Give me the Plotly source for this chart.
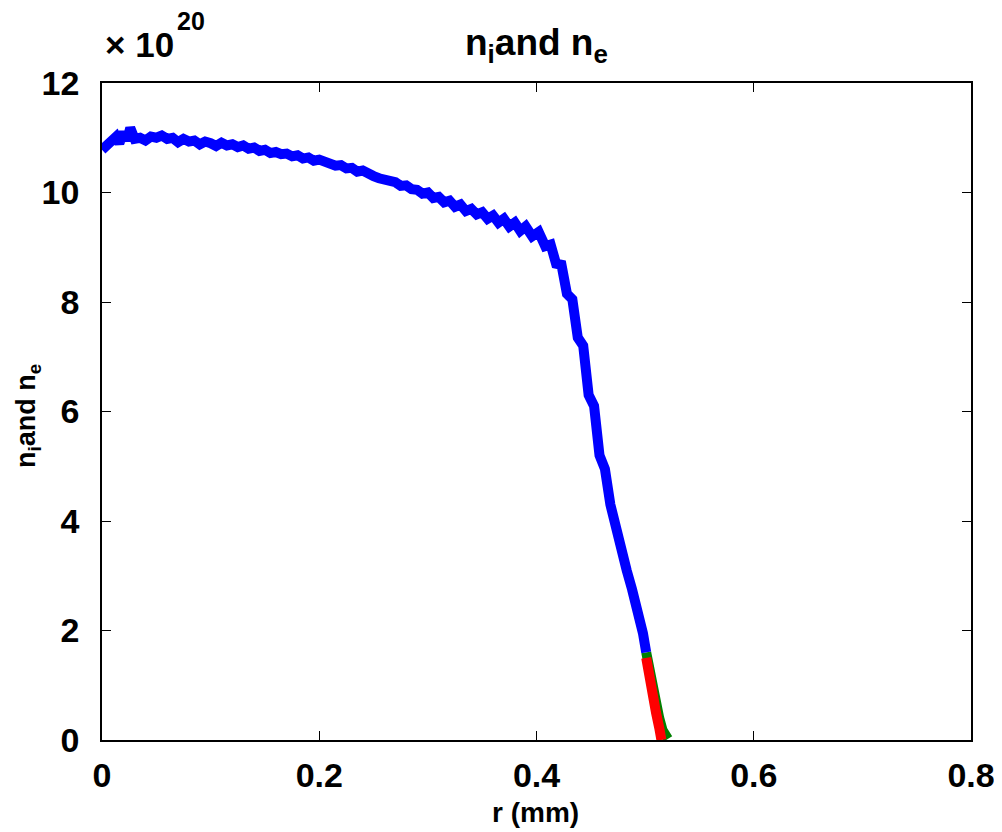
import plotly.graph_objects as go

# r (mm) and densities in units of 1e20
r_blue = [0.000, 0.006, 0.010, 0.013, 0.016, 0.020, 0.023, 0.026, 0.030, 0.035,
          0.040, 0.045, 0.050, 0.055, 0.060, 0.065, 0.070, 0.075, 0.080, 0.085,
          0.090, 0.095, 0.100, 0.105, 0.110, 0.115, 0.120, 0.125, 0.130, 0.135,
          0.140, 0.145, 0.150, 0.155, 0.160, 0.165, 0.170, 0.175, 0.180, 0.185,
          0.190, 0.195, 0.200, 0.205, 0.210, 0.215, 0.220, 0.225, 0.230, 0.235,
          0.240, 0.245, 0.250, 0.255, 0.260, 0.265, 0.270, 0.275, 0.280, 0.285,
          0.290, 0.295, 0.300, 0.305, 0.310, 0.315, 0.320, 0.325, 0.330, 0.335,
          0.340, 0.345, 0.350, 0.355, 0.360, 0.365, 0.370, 0.375, 0.380, 0.385,
          0.390, 0.396, 0.402, 0.408, 0.413, 0.418, 0.423, 0.428, 0.433, 0.438,
          0.443, 0.448, 0.453, 0.458, 0.463, 0.468, 0.473, 0.478, 0.483, 0.488,
          0.493, 0.498, 0.501]
n_blue = [10.78, 10.88, 10.95, 11.02, 10.90, 11.10, 10.95, 11.18, 10.98, 11.00,
          10.95, 11.02, 11.00, 11.04, 10.98, 11.00, 10.92, 10.98, 10.93, 10.95,
          10.88, 10.93, 10.90, 10.85, 10.91, 10.86, 10.88, 10.83, 10.86, 10.80,
          10.82, 10.76, 10.78, 10.72, 10.74, 10.70, 10.71, 10.66, 10.68, 10.62,
          10.64, 10.58, 10.60, 10.55, 10.54, 10.49, 10.50, 10.44, 10.45, 10.38,
          10.40, 10.33, 10.30, 10.26, 10.24, 10.18, 10.19, 10.12, 10.13, 10.06,
          10.05, 9.98, 10.00, 9.90, 9.92, 9.82, 9.85, 9.74, 9.78, 9.66,
          9.70, 9.60, 9.64, 9.52, 9.58, 9.45, 9.52, 9.38, 9.45, 9.30,
          9.38, 9.20, 9.28, 9.02, 9.05, 8.70, 8.68, 8.15, 8.05, 7.35,
          7.20, 6.30, 6.10, 5.20, 4.95, 4.30, 3.85, 3.50, 3.10, 2.75,
          2.40, 1.95, 1.60]

r_green = [0.501, 0.504, 0.507, 0.510, 0.513, 0.516, 0.519, 0.521]
n_green = [1.60, 1.25, 0.95, 0.65, 0.40, 0.18, 0.10, 0.02]

r_red = [0.501, 0.504, 0.507, 0.510, 0.513, 0.515]
n_red = [1.50, 1.10, 0.80, 0.50, 0.22, 0.00]

x_ticks = [0, 0.2, 0.4, 0.6, 0.8]
y_ticks = [0, 2, 4, 6, 8, 10, 12]

FONT = "Liberation Sans"

fig = go.Figure()
fig.add_trace(go.Scatter(x=r_green, y=n_green, mode="lines",
                         line=dict(color="#008000", width=10), showlegend=False))
fig.add_trace(go.Scatter(x=r_blue, y=n_blue, mode="lines",
                         line=dict(color="#0000ff", width=10), showlegend=False))
fig.add_trace(go.Scatter(x=r_red, y=n_red, mode="lines",
                         line=dict(color="#ff0000", width=10), showlegend=False))

axis_common = dict(showline=True, linecolor="black", linewidth=1.5, mirror="ticks",
                   ticks="inside", ticklen=9, tickcolor="black", tickwidth=1,
                   showgrid=False, zeroline=False, automargin=False,
                   tickfont=dict(family=FONT, size=34, color="black", weight="bold"))

# page body adds an 8px offset; figure is 994x824 so plot area lands at 102..971 x 83..740
fig.update_layout(
    width=994, height=824,
    paper_bgcolor="white", plot_bgcolor="white",
    margin=dict(l=94, r=31, t=75, b=92),
    xaxis=dict(range=[0, 0.8], tickvals=x_ticks, ticktext=[f"{v:g}" for v in x_ticks],
               ticklabelstandoff=4, **axis_common),
    yaxis=dict(range=[0, 12], tickvals=y_ticks, ticktext=[str(v) for v in y_ticks],
               ticklabelstandoff=14, **axis_common),
)


def px2paper(px, py):
    return (px - 102) / 869, (740 - py) / 657


tx, ty = px2paper(536, 45)
fig.add_annotation(xref="paper", yref="paper", x=tx, y=ty, xanchor="center", yanchor="middle",
                   text="<b>n<sub>i</sub>and n<sub>e</sub></b>", showarrow=False,
                   font=dict(family=FONT, size=37, color="black"))

xx, xy = px2paper(535, 812)
fig.add_annotation(xref="paper", yref="paper", x=xx, y=xy, xanchor="center", yanchor="middle",
                   text="<b>r (mm)</b>", showarrow=False,
                   font=dict(family=FONT, size=28, color="black"))

yx, yy = px2paper(28, 416)
fig.add_annotation(xref="paper", yref="paper", x=yx, y=yy, xanchor="center", yanchor="middle",
                   text="<b>n<sub>i</sub>and n<sub>e</sub></b>", showarrow=False, textangle=-90,
                   font=dict(family=FONT, size=27, color="black"))

mx, my = px2paper(103, 45)
fig.add_annotation(xref="paper", yref="paper", x=mx, y=my, xanchor="left", yanchor="middle",
                   text="<b>× 10</b>", showarrow=False,
                   font=dict(family=FONT, size=35, color="black"))
sx, sy = px2paper(175, 21)
fig.add_annotation(xref="paper", yref="paper", x=sx, y=sy, xanchor="left", yanchor="middle",
                   text="<b>20</b>", showarrow=False,
                   font=dict(family=FONT, size=25, color="black"))

fig.write_html("out.html")
